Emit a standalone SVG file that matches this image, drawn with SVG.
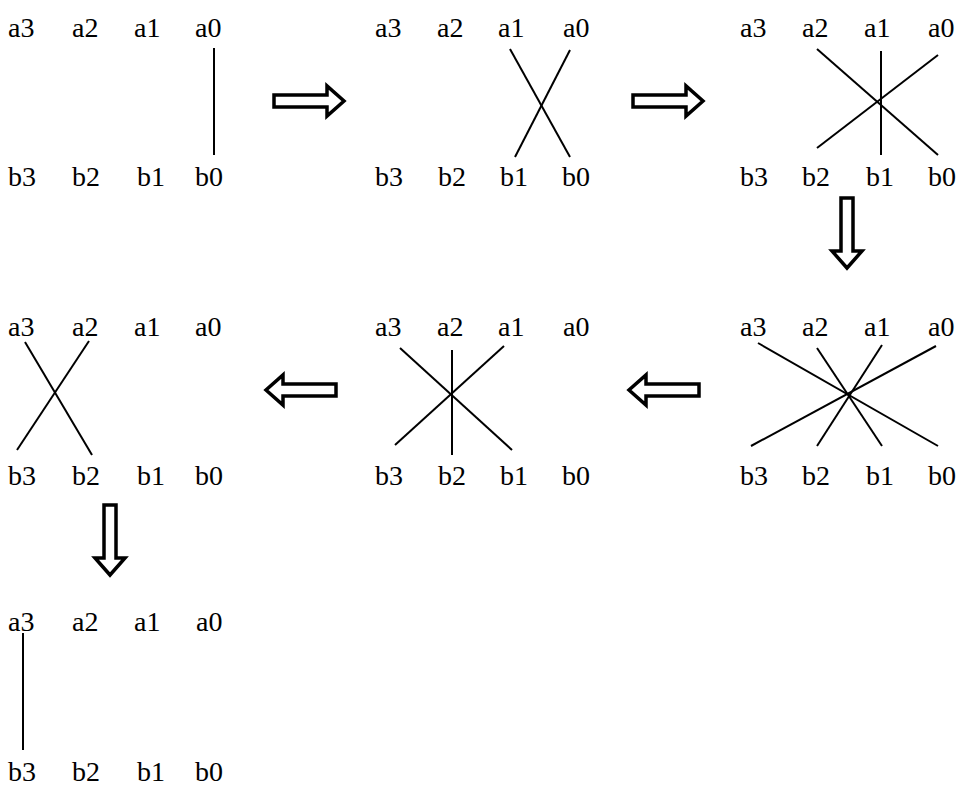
<svg xmlns="http://www.w3.org/2000/svg" xmlns:xlink="http://www.w3.org/1999/xlink" width="964" height="795" viewBox="0 0 964 795">
<style>
.t text{font-family:'Liberation Serif','Times New Roman',serif;font-size:28px;fill:#000}
.ln{stroke:#000;stroke-width:2;fill:none}
.ar{stroke:#000;stroke-width:3.5;fill:#fff;stroke-linejoin:miter}
</style>
<defs>
<path id="arr" class="ar" d="M-35,-6 H18 V-15 L35,0 L18,15 V6 H-35 Z"/>
</defs>
<rect width="964" height="795" fill="#fff"/>
<g id="panel1" class="t">
<text x="8" y="37">a3</text><text x="72" y="37">a2</text><text x="134" y="37">a1</text><text x="195" y="37">a0</text>
<text x="8" y="186">b3</text><text x="72" y="186">b2</text><text x="137" y="186">b1</text><text x="195" y="186">b0</text>
</g>
<g id="panel2" class="t">
<text x="375" y="37">a3</text><text x="437" y="37">a2</text><text x="498" y="37">a1</text><text x="563" y="37">a0</text>
<text x="375" y="186">b3</text><text x="438" y="186">b2</text><text x="500" y="186">b1</text><text x="562" y="186">b0</text>
</g>
<g id="panel3" class="t">
<text x="740" y="37">a3</text><text x="802" y="37">a2</text><text x="864" y="37">a1</text><text x="928" y="37">a0</text>
<text x="740" y="186">b3</text><text x="802" y="186">b2</text><text x="866" y="186">b1</text><text x="928" y="186">b0</text>
</g>
<g id="panel4" class="t">
<text x="740" y="336">a3</text><text x="802" y="336">a2</text><text x="864" y="336">a1</text><text x="928" y="336">a0</text>
<text x="740" y="485">b3</text><text x="802" y="485">b2</text><text x="866" y="485">b1</text><text x="928" y="485">b0</text>
</g>
<g id="panel5" class="t">
<text x="375" y="336">a3</text><text x="437" y="336">a2</text><text x="498" y="336">a1</text><text x="563" y="336">a0</text>
<text x="375" y="485">b3</text><text x="438" y="485">b2</text><text x="500" y="485">b1</text><text x="562" y="485">b0</text>
</g>
<g id="panel6" class="t">
<text x="8" y="336">a3</text><text x="72" y="336">a2</text><text x="134" y="336">a1</text><text x="195" y="336">a0</text>
<text x="8" y="485">b3</text><text x="72" y="485">b2</text><text x="137" y="485">b1</text><text x="195" y="485">b0</text>
</g>
<g id="panel7" class="t">
<text x="8" y="631">a3</text><text x="72" y="631">a2</text><text x="134" y="631">a1</text><text x="196" y="631">a0</text>
<text x="8" y="781">b3</text><text x="72" y="781">b2</text><text x="137" y="781">b1</text><text x="195" y="781">b0</text>
</g>
<g id="connectors">
<line class="ln" x1="214" y1="48" x2="214" y2="155"/>
<line class="ln" x1="510" y1="49" x2="570" y2="157"/>
<line class="ln" x1="570" y1="50" x2="515" y2="157"/>
<line class="ln" x1="817" y1="49" x2="938" y2="155"/>
<line class="ln" x1="881" y1="51" x2="881" y2="155"/>
<line class="ln" x1="938" y1="55" x2="817" y2="148"/>
<line class="ln" x1="758" y1="343" x2="938" y2="446"/>
<line class="ln" x1="817" y1="348" x2="882" y2="446"/>
<line class="ln" x1="882" y1="345" x2="817" y2="446"/>
<line class="ln" x1="936" y1="346" x2="751" y2="446"/>
<line class="ln" x1="400" y1="348" x2="512" y2="450"/>
<line class="ln" x1="452" y1="350" x2="452" y2="455"/>
<line class="ln" x1="504" y1="346" x2="395" y2="445"/>
<line class="ln" x1="25" y1="342" x2="92" y2="455"/>
<line class="ln" x1="89" y1="341" x2="17" y2="450"/>
<line class="ln" x1="23" y1="633" x2="23" y2="750"/>
</g>
<g id="arrows">
<use xlink:href="#arr" transform="translate(309,101)"/>
<use xlink:href="#arr" transform="translate(668,101)"/>
<use xlink:href="#arr" transform="translate(847,233) rotate(90)"/>
<use xlink:href="#arr" transform="translate(664,390) rotate(180)"/>
<use xlink:href="#arr" transform="translate(301,390) rotate(180)"/>
<use xlink:href="#arr" transform="translate(110,540) rotate(90)"/>
</g>
</svg>
